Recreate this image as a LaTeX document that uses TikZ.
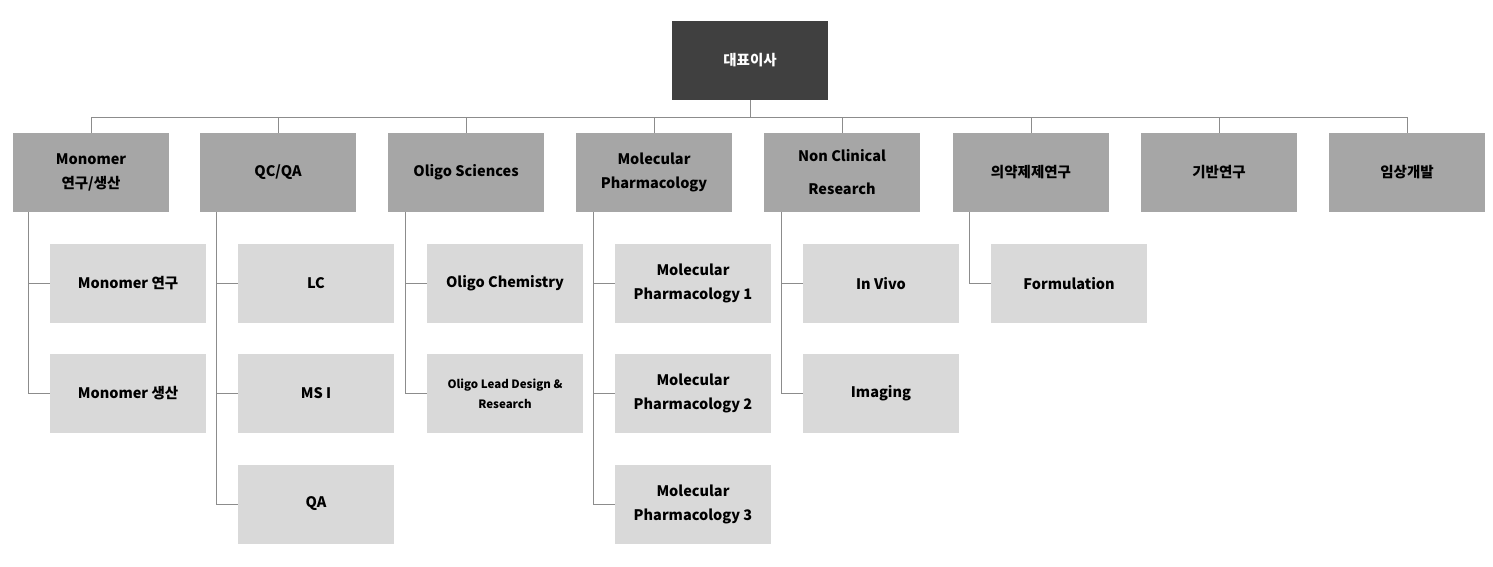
\documentclass[tikz,border=0pt]{standalone}
\usepackage{fontspec}
\setmainfont{Noto Sans CJK KR}
\begin{document}
\begin{tikzpicture}[x=1pt,y=-1pt,
  base/.style={minimum width=156pt,minimum height=79pt,inner sep=0pt,align=center,font=\fontsize{14.5}{24}\selectfont\bfseries,text=black},
  top/.style={base,fill={rgb,255:red,64;green,64;blue,64},text=white},
  lvl/.style={base,fill={rgb,255:red,166;green,166;blue,166}},
  sub/.style={base,fill={rgb,255:red,217;green,217;blue,217}},
  ln/.style={draw={rgb,255:red,140;green,140;blue,140},line width=0.8pt}]
\useasboundingbox (0,0) rectangle (1493,566);
\node[top] (ceo) at (750,60.5) {대표이사};
\node[lvl] (a) at (91,172.5) {Monomer\\연구/생산};
\node[lvl] (b) at (278,172.5) {QC/QA};
\node[lvl] (c) at (466,172.5) {Oligo Sciences};
\node[lvl] (d) at (654,172.5) {Molecular\\Pharmacology};
\node[lvl,font=\fontsize{14.5}{33}\selectfont\bfseries] (e) at (842,172.5) {Non Clinical\\Research};
\node[lvl] (f) at (1031,172.5) {의약제제연구};
\node[lvl] (g) at (1219,172.5) {기반연구};
\node[lvl] (h) at (1407,172.5) {임상개발};
\coordinate (bus) at (750,117);
\draw[ln] (ceo.south) -- (bus);
\draw[ln] (a.north) -- (a.north|-bus) -- (h.north|-bus) -- (h.north);
\foreach \n in {b,c,d,e,f,g}{\draw[ln] (\n.north|-bus) -- (\n.north);}
% children
\node[sub] (a1) at (128,283.5) {Monomer 연구};
\node[sub] (a2) at (128,393.5) {Monomer 생산};
\node[sub] (b1) at (316,283.5) {LC};
\node[sub] (b2) at (316,393.5) {MS I};
\node[sub] (b3) at (316,504) {QA};
\node[sub] (c1) at (505,283.5) {Oligo Chemistry};
\node[sub,font=\fontsize{11.5}{20}\selectfont\bfseries] (c2) at (505,393.5) {Oligo Lead Design \&\\Research};
\node[sub] (d1) at (693,283.5) {Molecular\\Pharmacology 1};
\node[sub] (d2) at (693,393.5) {Molecular\\Pharmacology 2};
\node[sub] (d3) at (693,504) {Molecular\\Pharmacology 3};
\node[sub] (e1) at (881,283.5) {In Vivo};
\node[sub] (e2) at (881,393.5) {Imaging};
\node[sub] (f1) at (1069,283.5) {Formulation};
\foreach \p/\x/\last in {a/28/a2,b/216/b3,c/405/c2,d/593/d3,e/781/e2,f/969/f1}{
  \draw[ln] (\x,212) -- (\x,0|-\last.west) -- (\last.west);}
\foreach \x/\c in {28/a1,216/b1,216/b2,405/c1,593/d1,593/d2,781/e1}{
  \draw[ln] (\x,0|-\c.west) -- (\c.west);}
\end{tikzpicture}
\end{document}
